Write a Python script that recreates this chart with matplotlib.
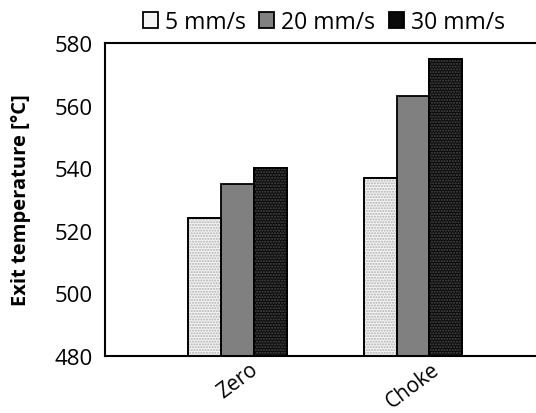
import numpy as np
import matplotlib
matplotlib.use("Agg")
import matplotlib.pyplot as plt

plt.rcParams["font.family"] = ["Open Sans", "DejaVu Sans"]

categories = ["Zero", "Choke"]
series_labels = ["5 mm/s", "20 mm/s", "30 mm/s"]
temp_5 = [524, 537]
temp_20 = [535, 563]
temp_30 = [540, 575]

faces = ["#f4f4f4", "#808080", "#0a0a0a"]
hatch_cols = ["#b0b0b0", None, "#4a4a4a"]

fig = plt.figure(figsize=(5.36, 4.14), dpi=100)
ax = fig.add_axes([0.196, 0.1377, 0.804, 0.756])

x = np.arange(len(categories))
w = 0.1875
handles = []
for i, (vals, lab) in enumerate(zip([temp_5, temp_20, temp_30], series_labels)):
    pos = x + (i - 1) * w
    h = np.array(vals) - 480
    b = ax.bar(pos, h, bottom=480, width=w, color=faces[i],
               edgecolor="black", linewidth=1.3, label=lab, zorder=2)
    if hatch_cols[i]:
        # dotted texture drawn on top, then the outline again
        ax.bar(pos, h, bottom=480, width=w, fill=False, hatch="......",
               edgecolor=hatch_cols[i], linewidth=0, zorder=3)
        ax.bar(pos, h, bottom=480, width=w, fill=False,
               edgecolor="black", linewidth=1.3, zorder=4)
    handles.append(b)

ax.set_ylim(480, 580)
ax.set_yticks(np.arange(480, 581, 20))
ax.set_xlim(-0.753, 1.70)
ax.set_xticks(x)
ax.set_xticklabels(categories, rotation=37, fontsize=15)
ax.tick_params(axis="both", length=0)
ax.tick_params(axis="y", pad=9, labelsize=16)
ax.tick_params(axis="x", pad=2)
ax.spines["right"].set_visible(False)
for s in ["left", "bottom", "top"]:
    ax.spines[s].set_linewidth(1.5)

ax.set_ylabel("Exit temperature [°C]", fontsize=14.5, fontweight="bold", labelpad=17)

fig.legend(handles=handles, labels=series_labels, loc="center",
           bbox_to_anchor=(0.604, 0.944), ncol=3, frameon=False,
           fontsize=16.5, handlelength=0.65, handleheight=0.65,
           handletextpad=0.3, columnspacing=0.6, borderaxespad=0)

fig.savefig("out.png", dpi=100)
